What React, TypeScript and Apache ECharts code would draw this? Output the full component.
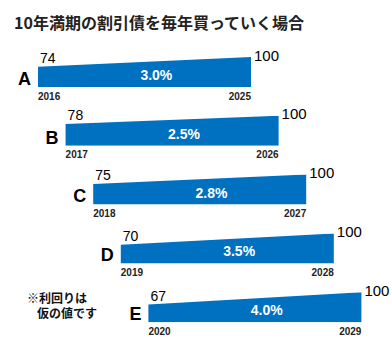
import React, { useEffect, useRef } from "react";
import * as echarts from "echarts";

const titleText = "10年満期の割引債を毎年買っていく場合";
const rowNames = ["A", "B", "C", "D", "E"];
const startValues = [74, 78, 75, 70, 67];
const endValues = [100, 100, 100, 100, 100];
const startYears = [2016, 2017, 2018, 2019, 2020];
const termYears = 9;
const yieldLabels = ["3.0%", "2.5%", "2.8%", "3.5%", "4.0%"];
const noteLines = ["※利回りは", "仮の値です"];

const BLUE = "#0070C0";
const FONT = "'Liberation Sans', Arial, 'Noto Sans CJK JP', sans-serif";
const JFONT = "'Noto Sans CJK JP', sans-serif";

export default function App() {
  const ref = useRef<HTMLDivElement>(null);
  useEffect(() => {
    if (!ref.current) return;
    const chart = echarts.init(ref.current, undefined, { renderer: "svg" });
    const grids: any[] = [];
    const xAxes: any[] = [];
    const yAxes: any[] = [];
    const series: any[] = [];
    rowNames.forEach((name, i) => {
      grids.push({
        left: 38 + i * 27.6,
        top: 57 + i * 58.8,
        width: 213,
        height: 30,
      });
      xAxes.push({
        gridIndex: i,
        type: "value",
        min: 0,
        max: termYears,
        interval: termYears,
        axisLine: { show: false },
        axisTick: { show: false },
        splitLine: { show: false },
        axisLabel: {
          show: true,
          margin: 4,
          fontSize: 10,
          fontWeight: "bold",
          color: "#222",
          fontFamily: FONT,
          showMinLabel: true,
          showMaxLabel: true,
          alignMinLabel: "left",
          alignMaxLabel: "right",
          formatter: (v: number) => String(startYears[i] + v),
        },
      });
      yAxes.push({
        gridIndex: i,
        type: "value",
        min: 20,
        max: 100,
        show: false,
      });
      series.push({
        type: "line",
        xAxisIndex: i,
        yAxisIndex: i,
        z: 2,
        data: [
          [0, startValues[i]],
          [termYears, endValues[i]],
        ],
        symbol: "none",
        lineStyle: { width: 0, opacity: 0 },
        areaStyle: { color: BLUE, opacity: 1, origin: "start" },
        silent: true,
      });
      series.push({
        type: "scatter",
        xAxisIndex: i,
        yAxisIndex: i,
        z: 10,
        symbolSize: 0,
        itemStyle: { opacity: 1 },
        silent: true,
        data: [
          {
            value: [0, startValues[i]],
            label: {
              show: true,
              position: "top",
              align: "left",
              distance: 2,
              offset: [2, 0],
              fontSize: 14,
              color: "#000",
              fontFamily: FONT,
              formatter: String(startValues[i]),
            },
          },
          {
            value: [termYears, endValues[i]],
            label: {
              show: true,
              position: "right",
              distance: 3,
              offset: [0, -2],
              fontSize: 15,
              color: "#000",
              fontFamily: FONT,
              formatter: String(endValues[i]),
            },
          },
          {
            value: [5, 52],
            label: {
              show: true,
              position: "inside",
              fontSize: 14,
              fontWeight: "bold",
              color: "#fff",
              fontFamily: FONT,
              formatter: yieldLabels[i],
            },
          },
          {
            value: [0, 42],
            label: {
              show: true,
              position: "left",
              distance: 7,
              fontSize: 18,
              fontWeight: "bold",
              color: "#000",
              fontFamily: FONT,
              formatter: name,
            },
          },
        ],
      });
    });

    chart.setOption({
      animation: false,
      backgroundColor: "#fff",
      title: {
        text: titleText,
        left: 9,
        top: 9,
        textStyle: {
          fontSize: 16,
          fontWeight: "bold",
          color: "#222",
          fontFamily: JFONT,
        },
      },
      grid: grids,
      xAxis: xAxes,
      yAxis: yAxes,
      series,
      graphic: [
        {
          type: "text",
          left: 27,
          top: 291,
          style: {
            text: noteLines[0],
            fontSize: 12,
            fontWeight: "bold",
            fill: "#111",
            fontFamily: JFONT,
          },
        },
        {
          type: "text",
          left: 37,
          top: 306,
          style: {
            text: noteLines[1],
            fontSize: 12,
            fontWeight: "bold",
            fill: "#111",
            fontFamily: JFONT,
          },
        },
      ],
    });
    return () => chart.dispose();
  }, []);
  return (
    <div
      ref={ref}
      style={{ position: "absolute", left: 0, top: 0, width: 392, height: 340 }}
    />
  );
}
